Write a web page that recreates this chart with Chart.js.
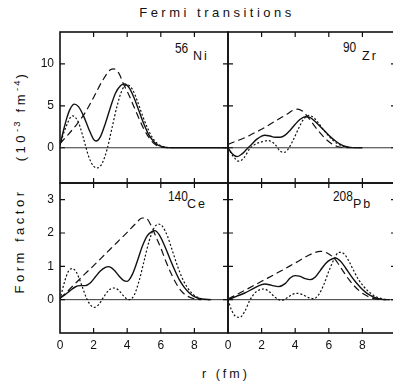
<!DOCTYPE html>
<html>
<head>
<meta charset="utf-8">
<script src="https://cdn.jsdelivr.net/npm/chart.js@4.4.0/dist/chart.umd.min.js"></script>
<style>
  body { margin: 0; background: #fff; width: 393px; height: 389px; overflow: hidden; position: relative; font-family: "Liberation Sans", Arial, sans-serif; color: #111; }
  canvas { position: absolute; }
  .txt { position: absolute; white-space: nowrap; line-height: 1; }
  .mass { font-size: 14px; transform: scaleX(0.85); transform-origin: left top; }
  .el { font-size: 12.5px; letter-spacing: 2px; }
  .ylab { position: absolute; white-space: nowrap; line-height: 1; font-size: 13px; letter-spacing: 3.5px; transform: translate(-50%, -50%) rotate(-90deg); }
  sup { font-size: 9.5px; vertical-align: 5px; letter-spacing: 2px; }
</style>
</head>
<body>
<div class="txt" style="left:0;width:434px;text-align:center;top:6px;font-size:13px;letter-spacing:3.5px;">Fermi transitions</div>
<div class="txt" style="left:0;width:452px;text-align:center;top:368px;font-size:12.5px;letter-spacing:3px;">r (fm)</div>
<div class="ylab" style="left:19px;top:116px;">(10<sup>-3</sup> fm<sup>-4</sup>)</div>
<div class="ylab" style="left:19px;top:241px;">Form factor</div>

<div class="txt mass" style="left:175px;top:41px;">56</div><div class="txt el" style="left:193px;top:49.5px;">Ni</div>
<div class="txt mass" style="left:343px;top:40px;">90</div><div class="txt el" style="left:362px;top:49.5px;">Zr</div>
<div class="txt mass" style="left:168px;top:189px;">140</div><div class="txt el" style="left:187px;top:197.5px;">Ce</div>
<div class="txt mass" style="left:333px;top:189px;">208</div><div class="txt el" style="left:353px;top:197.5px;">Pb</div>

<canvas id="ni" width="234" height="163" style="left:0;top:26px;"></canvas>
<canvas id="zr" width="180" height="163" style="left:222px;top:26px;"></canvas>
<canvas id="ce" width="234" height="182" style="left:0;top:177px;"></canvas>
<canvas id="pb" width="180" height="182" style="left:222px;top:177px;"></canvas>

<script>
// r in fm, form factor values
const rTicks = [0, 2, 4, 6, 8];
const rEdgeTicks = [2, 4, 6, 8];
const topTicks = [0, 5, 10];
const bottomTicks = [0, 1, 2, 3];

// 56Ni (10^-3 fm^-4)
const niSolid = [[0,0.3],[0.2,2.0],[0.4,3.5],[0.6,4.6],[0.85,5.2],[1.1,4.9],[1.4,3.8],[1.7,2.3],[2.0,1.0],[2.15,0.8],[2.4,1.3],[2.7,2.9],[3.0,4.8],[3.3,6.5],[3.6,7.4],[3.85,7.6],[4.1,7.2],[4.4,6.0],[4.7,4.4],[5.0,2.8],[5.3,1.5],[5.6,0.7],[5.9,0.25],[6.3,0.05],[7,0],[10,0]];
const niDashed = [[0,0.5],[0.5,1.6],[1.0,2.8],[1.5,4.2],[2.0,6.0],[2.5,7.9],[3.0,9.3],[3.2,9.4],[3.5,8.9],[3.8,7.5],[4.1,6.3],[4.4,4.9],[4.7,3.5],[5.0,2.2],[5.3,1.2],[5.6,0.5],[6.0,0.1],[6.5,0]];
const niDotted = [[0,0.3],[0.3,2.2],[0.75,3.8],[1.1,3.0],[1.4,1.1],[1.7,-1.0],[2.0,-2.2],[2.25,-2.4],[2.5,-1.9],[2.8,-0.2],[3.1,2.4],[3.4,5.0],[3.7,6.9],[4.0,7.5],[4.3,7.0],[4.6,5.6],[4.9,3.9],[5.2,2.4],[5.5,1.2],[5.8,0.5],[6.2,0.1],[6.7,0]];

// 90Zr
const zrSolid = [[0,0],[0.25,-0.7],[0.55,-1.05],[0.85,-0.7],[1.1,-0.2],[1.4,0.4],[1.7,1.0],[2.0,1.4],[2.2,1.5],[2.5,1.4],[2.8,1.25],[3.1,1.25],[3.4,1.5],[3.7,2.1],[4.0,2.8],[4.3,3.4],[4.6,3.7],[4.9,3.6],[5.2,3.1],[5.5,2.5],[5.8,1.9],[6.1,1.3],[6.4,0.8],[6.7,0.4],[7.0,0.15],[7.4,0.02],[8,0]];
const zrDashed = [[0,0.4],[0.5,0.8],[1,1.2],[1.5,1.7],[2,2.2],[2.5,2.8],[3,3.4],[3.5,4.0],[3.9,4.5],[4.15,4.6],[4.4,4.4],[4.7,3.8],[5.0,3.0],[5.3,2.2],[5.6,1.5],[5.9,0.9],[6.2,0.45],[6.5,0.15],[6.9,0.02],[7.3,0]];
const zrDotted = [[0,0],[0.3,-1.0],[0.65,-1.6],[0.95,-1.2],[1.3,-0.1],[1.6,0.4],[2.0,0.7],[2.4,0.85],[2.8,0.4],[3.1,-0.4],[3.35,-0.55],[3.6,-0.1],[3.9,1.0],[4.2,2.3],[4.5,3.4],[4.8,3.85],[5.1,3.6],[5.4,2.9],[5.7,2.1],[6.0,1.4],[6.3,0.8],[6.6,0.4],[6.9,0.15],[7.3,0.03],[7.8,0]];

// 140Ce
const ceSolid = [[0,0.05],[0.3,0.15],[0.6,0.27],[0.9,0.38],[1.2,0.42],[1.5,0.42],[1.8,0.5],[2.1,0.68],[2.4,0.86],[2.7,0.97],[2.9,0.99],[3.2,0.9],[3.5,0.72],[3.8,0.57],[4.0,0.55],[4.3,0.75],[4.6,1.15],[4.9,1.6],[5.2,1.92],[5.5,2.05],[5.65,2.07],[5.9,1.95],[6.2,1.65],[6.5,1.28],[6.8,0.92],[7.1,0.6],[7.4,0.37],[7.7,0.2],[8.0,0.09],[8.4,0.02],[9,0]];
const ceDashed = [[0,0.03],[0.5,0.28],[1,0.53],[1.5,0.78],[2,1.02],[2.5,1.27],[3,1.52],[3.5,1.77],[4,2.02],[4.5,2.28],[4.9,2.45],[5.1,2.45],[5.4,2.25],[5.7,1.9],[6.0,1.55],[6.3,1.15],[6.6,0.8],[6.9,0.5],[7.2,0.27],[7.5,0.13],[7.9,0.04],[8.4,0]];
const ceDotted = [[0,0],[0.25,0.5],[0.5,0.85],[0.75,0.93],[1.0,0.8],[1.3,0.42],[1.6,0.02],[1.85,-0.18],[2.05,-0.23],[2.3,-0.15],[2.6,0.08],[2.9,0.28],[3.2,0.35],[3.5,0.28],[3.8,0.1],[4.1,0.0],[4.4,0.12],[4.7,0.55],[5.0,1.15],[5.3,1.75],[5.6,2.15],[5.85,2.27],[6.1,2.2],[6.4,1.9],[6.7,1.45],[7.0,1.0],[7.3,0.62],[7.6,0.35],[7.9,0.17],[8.2,0.07],[8.6,0.01],[9,0]];

// 208Pb
const pbSolid = [[0,0],[0.5,0.1],[1.0,0.2],[1.5,0.33],[2.0,0.45],[2.2,0.47],[2.6,0.43],[3.0,0.39],[3.4,0.48],[3.7,0.65],[4.0,0.72],[4.3,0.7],[4.6,0.63],[4.9,0.6],[5.2,0.68],[5.5,0.88],[5.8,1.08],[6.1,1.2],[6.4,1.25],[6.7,1.15],[7.0,0.95],[7.3,0.73],[7.6,0.53],[7.9,0.36],[8.2,0.22],[8.5,0.12],[8.8,0.05],[9.2,0.01],[9.6,0]];
const pbDashed = [[0,0.02],[1,0.28],[2,0.55],[3,0.82],[4,1.1],[5,1.38],[5.5,1.45],[5.9,1.4],[6.3,1.25],[6.6,1.05],[6.9,0.82],[7.2,0.6],[7.5,0.42],[7.8,0.27],[8.1,0.16],[8.5,0.06],[9.0,0.01],[9.4,0]];
const pbDotted = [[0,0],[0.2,-0.3],[0.45,-0.5],[0.7,-0.53],[1.0,-0.35],[1.3,-0.02],[1.6,0.2],[1.9,0.3],[2.15,0.32],[2.5,0.22],[2.8,0.07],[3.2,-0.02],[3.5,0.05],[3.8,0.15],[4.1,0.19],[4.4,0.16],[4.8,0.06],[5.1,0.03],[5.4,0.15],[5.7,0.45],[6.0,0.85],[6.3,1.2],[6.6,1.42],[6.9,1.38],[7.2,1.15],[7.5,0.85],[7.8,0.58],[8.1,0.38],[8.4,0.23],[8.7,0.12],[9.0,0.05],[9.4,0.01],[9.8,0]];

const ink = '#111';
const tickFont = { family: '"Liberation Sans", Arial, sans-serif', size: 12 };

function line(points, dash) {
    return {
        data: points.map(p => ({ x: p[0], y: p[1] })),
        showLine: true,
        pointRadius: 0,
        borderColor: ink,
        borderWidth: dash.length ? 1.2 : 1.4,
        borderDash: dash,
        cubicInterpolationMode: 'monotone',
        fill: false
    };
}

function framePlugin(yTicks) {
    return {
        id: 'frame',
        beforeDatasetsDraw(chart) {
            const { ctx, chartArea: a, scales: { y } } = chart;
            const y0 = y.getPixelForValue(0);
            ctx.save();
            ctx.strokeStyle = '#333';
            ctx.lineWidth = 1;
            ctx.beginPath();
            ctx.moveTo(a.left, y0);
            ctx.lineTo(a.right, y0);
            ctx.stroke();
            ctx.restore();
        },
        afterDraw(chart) {
            const { ctx, chartArea: a, scales: { x, y } } = chart;
            const t = 5;
            ctx.save();
            ctx.strokeStyle = ink;
            ctx.lineWidth = 1.6;
            ctx.strokeRect(a.left, a.top, a.right - a.left, a.bottom - a.top);
            ctx.lineWidth = 1.2;
            ctx.beginPath();
            rEdgeTicks.forEach(v => {
                const px = x.getPixelForValue(v);
                ctx.moveTo(px, a.top); ctx.lineTo(px, a.top + t);
                ctx.moveTo(px, a.bottom); ctx.lineTo(px, a.bottom - t);
            });
            yTicks.forEach(v => {
                const py = y.getPixelForValue(v);
                ctx.moveTo(a.left, py); ctx.lineTo(a.left + t, py);
                ctx.moveTo(a.right, py); ctx.lineTo(a.right - t, py);
            });
            ctx.stroke();
            ctx.restore();
        }
    };
}

function makePanel(id, series, opts) {
    const yTicks = opts.top ? topTicks : bottomTicks;
    new Chart(document.getElementById(id), {
        type: 'scatter',
        data: {
            datasets: [line(series[0], []), line(series[1], [7, 4]), line(series[2], [2, 2])]
        },
        options: {
            responsive: false,
            animation: false,
            layout: {
                padding: { left: opts.left ? 0 : 6, right: 6, top: 6, bottom: opts.top ? 6 : 0 }
            },
            plugins: { legend: { display: false }, tooltip: { enabled: false } },
            scales: {
                x: {
                    type: 'linear',
                    min: 0,
                    max: 10,
                    display: !opts.top,
                    grid: { display: false, drawTicks: false },
                    border: { display: false },
                    afterBuildTicks: s => { s.ticks = rTicks.map(v => ({ value: v })); },
                    afterFit: s => {
                        if (!opts.top) s.height = 26;
                        s.paddingLeft = 0;
                        s.paddingRight = 0;
                    },
                    ticks: { color: ink, font: tickFont, padding: 5, maxRotation: 0 }
                },
                y: {
                    type: 'linear',
                    min: opts.top ? -4.2 : -1,
                    max: opts.top ? 13.8 : 3.5,
                    display: opts.left,
                    grid: { display: false, drawTicks: false },
                    border: { display: false },
                    afterBuildTicks: s => { s.ticks = yTicks.map(v => ({ value: v })); },
                    afterFit: s => {
                        if (opts.left) s.width = 60;
                        s.paddingTop = 0;
                        s.paddingBottom = 0;
                    },
                    ticks: { color: ink, font: tickFont, padding: 6 }
                }
            }
        },
        plugins: [framePlugin(yTicks)]
    });
}

makePanel('ni', [niSolid, niDashed, niDotted], { top: true, left: true });
makePanel('zr', [zrSolid, zrDashed, zrDotted], { top: true, left: false });
makePanel('ce', [ceSolid, ceDashed, ceDotted], { top: false, left: true });
makePanel('pb', [pbSolid, pbDashed, pbDotted], { top: false, left: false });
</script>
</body>
</html>
